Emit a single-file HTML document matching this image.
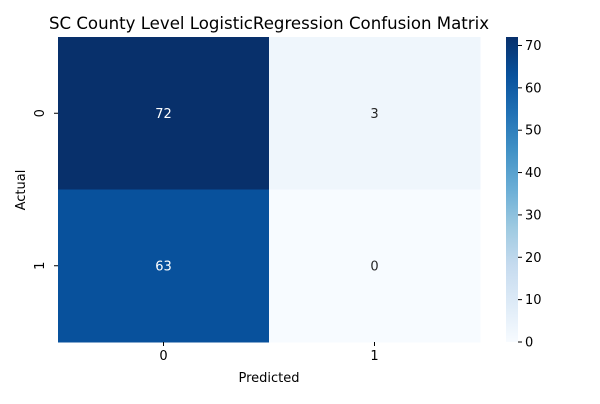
<!DOCTYPE html>
<html><head><meta charset="utf-8"><style>
body{margin:0;background:#fff;font-family:"DejaVu Sans",sans-serif}
svg text{font-family:"DejaVu Sans",sans-serif}
</style></head><body>
<svg id="c" width="600" height="400" xmlns="http://www.w3.org/2000/svg">
<defs><linearGradient id="g" x1="0" y1="1" x2="0" y2="0">
<stop offset="0" stop-color="#f7fbff"/><stop offset="0.125" stop-color="#deebf7"/><stop offset="0.25" stop-color="#c6dbef"/><stop offset="0.375" stop-color="#9ecae1"/><stop offset="0.5" stop-color="#6baed6"/><stop offset="0.625" stop-color="#4292c6"/><stop offset="0.75" stop-color="#2171b5"/><stop offset="0.875" stop-color="#08519c"/><stop offset="1" stop-color="#08306b"/></linearGradient></defs>
<text x="269" y="29" font-size="16.6" text-anchor="middle">SC County Level LogisticRegression Confusion Matrix</text>
<text x="269" y="382" font-size="13" text-anchor="middle">Predicted</text>
<text x="25" y="190" font-size="13" text-anchor="middle" transform="rotate(-90 25 190)">Actual</text>
<g id="cells"></g>
<rect x="506" y="37" width="12" height="305" fill="url(#g)"/>
<g id="cb"></g>
</svg>
<script>
const xLabels=["0","1"];
const yLabels=["0","1"];
const values=[[72,3],[63,0]];
const cbTicks=[0,10,20,30,40,50,60,70];
const vmin=0,vmax=72;
const stops=["#f7fbff","#deebf7","#c6dbef","#9ecae1","#6baed6","#4292c6","#2171b5","#08519c","#08306b"];
function col(v){let t=(v-vmin)/(vmax-vmin)*8;let i=Math.min(7,Math.floor(t));let f=t-i;
const a=stops[i],b=stops[i+1];const p=(s,k)=>parseInt(s.substr(1+2*k,2),16);
let r=[0,1,2].map(k=>Math.round(p(a,k)+(p(b,k)-p(a,k))*f));return `rgb(${r.join(',')})`;}
const X0=58,X1=480,Y0=37,Y1=342;
const cw=(X1-X0)/xLabels.length,ch=(Y1-Y0)/yLabels.length;
const ns="http://www.w3.org/2000/svg";
const cells=document.getElementById('cells'),svg=document.getElementById('c');
function mk(t,at,par){const e=document.createElementNS(ns,t);for(const k in at)e.setAttribute(k,at[k]);par.appendChild(e);return e;}
values.forEach((row,r)=>row.forEach((v,c)=>{
const rc=mk('rect',{x:X0+c*cw,y:Y0+r*ch,width:cw+0.5,height:ch+0.5,fill:col(v)},cells);


const tx=mk('text',{x:X0+(c+0.5)*cw,y:Y0+(r+0.5)*ch+4.5,'font-size':13,'text-anchor':'middle',fill:(v-vmin)/(vmax-vmin)>0.5?'#fff':'#262626'},cells);
tx.textContent=v;


}));
xLabels.forEach((l,i)=>{const x=X0+(i+0.5)*cw;
mk('line',{x1:x,x2:x,y1:Y1,y2:Y1+4,stroke:'#000'},svg);
const t=mk('text',{x:x,y:Y1+18,'font-size':13,'text-anchor':'middle'},svg);t.textContent=l;

});
yLabels.forEach((l,i)=>{const y=Y0+(i+0.5)*ch;
mk('line',{x1:X0-4,x2:X0,y1:y,y2:y,stroke:'#000'},svg);
const t=mk('text',{x:44,y:y,'font-size':13,'text-anchor':'middle',transform:`rotate(-90 44 ${y})`},svg);t.textContent=l;

});
const cb=document.getElementById('cb');
cbTicks.forEach(v=>{const y=Y1-(v-vmin)/(vmax-vmin)*(Y1-Y0);
mk('line',{x1:518,x2:522,y1:y,y2:y,stroke:'#000'},cb);
const t=mk('text',{x:525,y:y+4.5,'font-size':13},cb);t.textContent=v;

});
</script>
</body></html>
